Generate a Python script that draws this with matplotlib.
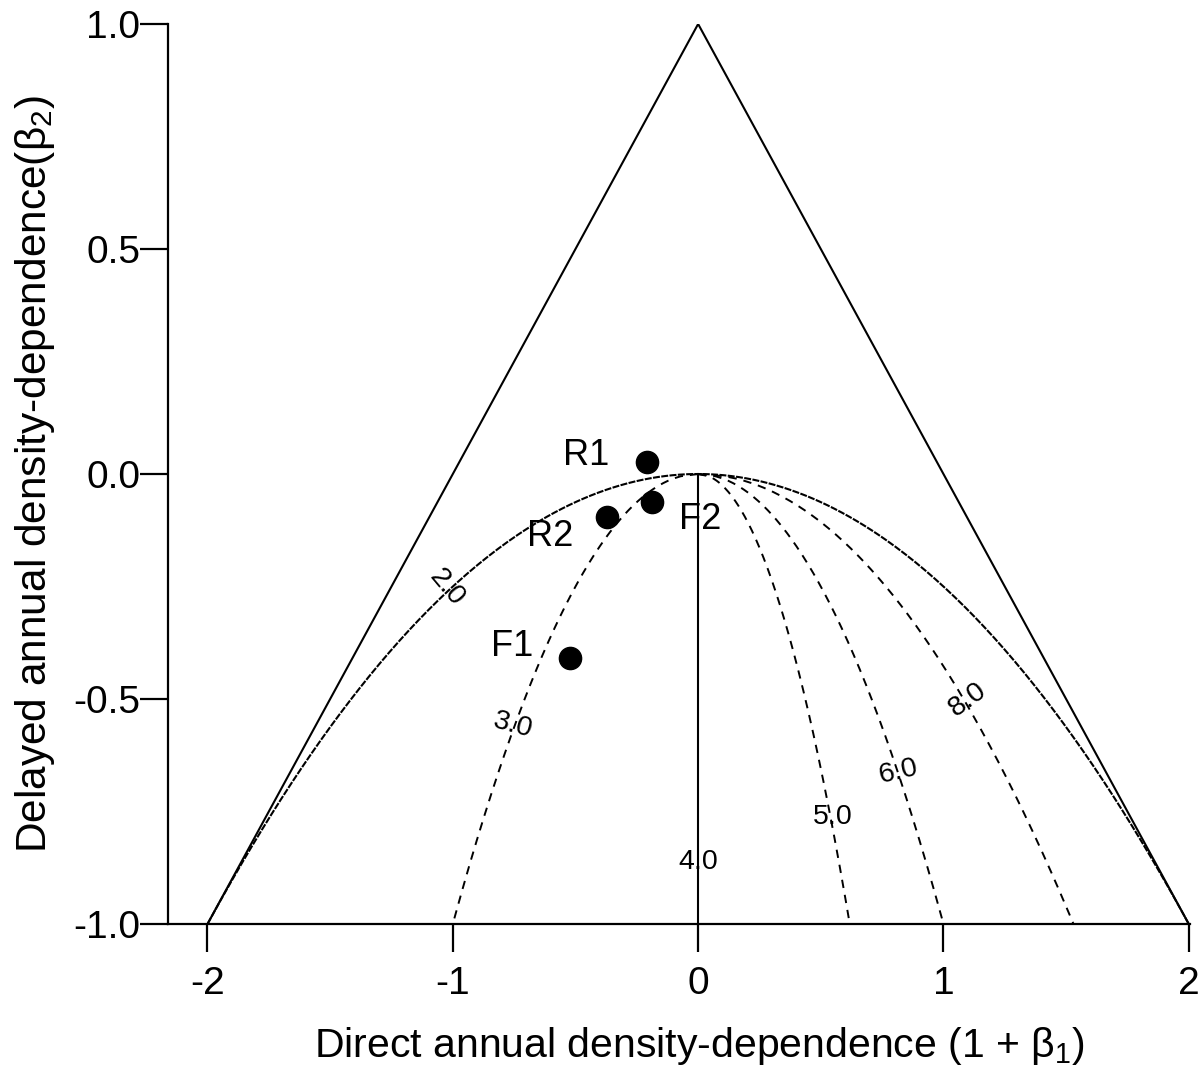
import numpy as np
import matplotlib
matplotlib.use("Agg")
import matplotlib.pyplot as plt

plt.rcParams['font.family'] = ['Liberation Sans', 'DejaVu Sans']
plt.rcParams['lines.scale_dashes'] = False

# Estimated AR(2) coefficients for each series
site_names = ["R1", "F2", "R2", "F1"]
direct_dd = [-0.208, -0.188, -0.371, -0.522]     # 1 + beta1
delayed_dd = [0.027, -0.062, -0.096, -0.409]     # beta2

# Period isoclines: x = end * sqrt(-beta2), end = crossing at beta2 = -1
period_labels = ["3.0", "4.0", "5.0", "6.0", "8.0"]
period_ends = [-1.0, 0.0, 0.618, 1.0, 1.53]

x_ticks = [-2, -1, 0, 1, 2]
y_ticks = [-1.0, -0.5, 0.0, 0.5, 1.0]

fig = plt.figure(figsize=(12.01, 10.67), dpi=100)
ax = fig.add_axes([168 / 1201, 1 - 924 / 1067, (1190 - 168) / 1201, (924 - 24) / 1067])

# Stability triangle
ax.plot([-2, 0, 2], [-1, 1, -1], color="black", lw=1.5)

# Boundary between real and complex roots
xp = np.linspace(-2, 2, 400)
ax.plot(xp, -xp ** 2 / 4, color="black", lw=1.5, dashes=(5, 1.0))

# Period contours
yc = np.linspace(0, -1, 200)
for lab, end in zip(period_labels, period_ends):
    if end == 0.0:
        ax.plot([0, 0], [0, -1], color="black", lw=1.5)
    else:
        ax.plot(end * np.sqrt(-yc), yc, color="black", lw=1.4, dashes=(6, 5))

# Contour labels
label_pos = {"2.0": (-1.023, -0.253, -50),
             "3.0": (-0.754, -0.558, -15),
             "4.0": (0.0, -0.862, 0),
             "5.0": (0.55, -0.762, 0),
             "6.0": (0.816, -0.662, 13),
             "8.0": (1.098, -0.502, 36)}
for lab, (lx, ly, rot) in label_pos.items():
    ax.text(lx, ly, lab, fontsize=20.5, rotation=rot, ha="center", va="center",
            rotation_mode="anchor")

# Data points
ax.plot(direct_dd, delayed_dd, "o", color="black", markersize=16, zorder=5)
name_pos = {"R1": (-0.457, 0.042), "F2": (0.008, -0.102),
            "R2": (-0.603, -0.14), "F1": (-0.758, -0.384)}
for name in site_names:
    nx, ny = name_pos[name]
    ax.text(nx, ny, name, fontsize=26, ha="center", va="center")

ax.set_xlim(-2.161, 2.005)
ax.set_ylim(-1.0, 1.0)
ax.set_xticks(x_ticks)
ax.set_xticklabels([str(t) for t in x_ticks])
ax.set_yticks(y_ticks)
ax.set_yticklabels([f"{t:.1f}" for t in y_ticks])
for s in ["top", "right"]:
    ax.spines[s].set_visible(False)
for s in ["left", "bottom"]:
    ax.spines[s].set_linewidth(1.6)
ax.tick_params(direction="out", length=20, width=1.6, labelsize=28)
ax.tick_params(axis="y", pad=0)
ax.tick_params(axis="x", pad=10)

ax.set_xlabel(r"Direct annual density-dependence (1 + $\mathregular{\beta_1}$)", fontsize=29.5)
ax.xaxis.set_label_coords(0.5205, -0.112)
ax.set_ylabel(r"Delayed annual density-dependence($\mathregular{\beta_2}$)", fontsize=30.5, labelpad=12)

fig.savefig("out.png", dpi=100)
